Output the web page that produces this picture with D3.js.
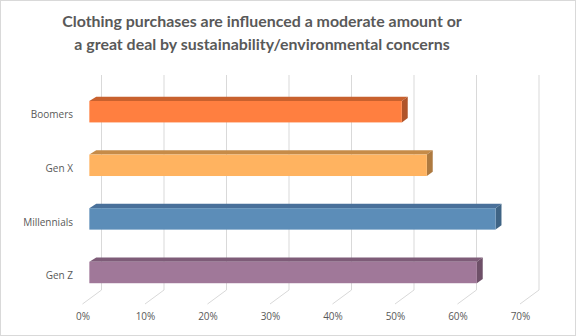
<!DOCTYPE html>
<html>
<head>
<meta charset="utf-8">
<script src="https://cdn.jsdelivr.net/npm/d3@7"></script>
<style>
  html, body { margin: 0; padding: 0; background: #fff; }
  svg { display: block; }
</style>
</head>
<body>
<svg id="chart" width="576" height="336"></svg>
<script>
// Survey results by generation
const categories = ["Boomers", "Gen X", "Millennials", "Gen Z"];
const values = [0.50, 0.54, 0.65, 0.62];
const tickValues = [0, 0.1, 0.2, 0.3, 0.4, 0.5, 0.6, 0.7];
const titleLines = [
  "Clothing purchases are influenced a moderate amount or",
  "a great deal by sustainability/environmental concerns"
];
// front / top / side shades for each bar
const faceColors = ["#FF7F40", "#FFB360", "#5C8DB8", "#A07899"];
const topColors = ["#C8612E", "#C68B48", "#49709A", "#7E5C78"];
const sideColors = ["#B0542A", "#AE7A40", "#3F6485", "#6E5068"];

const svg = d3.select("#chart");
const W = 576, H = 336;

// outer frame
svg.append("rect")
  .attr("x", 0.5).attr("y", 0.5)
  .attr("width", W - 1).attr("height", H - 1)
  .attr("fill", "#fff").attr("stroke", "#d9d9d9");

// oblique 3D geometry: back wall, depth vector towards the viewer
const backX0 = 101.5, wallTop = 75, floorY = 290;
const depth = { dx: -19, dy: 14 };
const barFront = 0.64, barBack = 0.33; // depth fractions of the bar's faces

const x = d3.scaleLinear().domain([0, 0.7]).range([backX0, backX0 + 437.5]);
const y = d3.scaleBand().domain(categories)
  .range([84.9, 84.9 + 53.6 * 4])
  .paddingInner(0.6).paddingOuter(0.3);

// vertical gridlines on the back wall
svg.append("g").selectAll("line").data(tickValues).join("line")
  .attr("x1", d => x(d)).attr("x2", d => x(d))
  .attr("y1", wallTop).attr("y2", floorY)
  .attr("stroke", "#d9d9d9").attr("stroke-width", 1);

// floor gridlines running to the front edge
svg.append("g").selectAll("line").data(tickValues).join("line")
  .attr("x1", d => x(d)).attr("y1", floorY)
  .attr("x2", d => x(d) + depth.dx).attr("y2", floorY + depth.dy)
  .attr("stroke", "#d9d9d9").attr("stroke-width", 1);

// tick labels along the front edge
const fmt = d3.format(".0%");
svg.append("g").selectAll("text").data(tickValues).join("text")
  .attr("x", d => x(d) + depth.dx + 0.5)
  .attr("y", floorY + depth.dy + 13)
  .attr("text-anchor", "middle")
  .attr("dominant-baseline", "middle")
  .attr("font-family", "'Open Sans', sans-serif")
  .attr("font-size", 10)
  .attr("fill", "#595959")
  .text(d => fmt(d));

// bars: front face shifted forward, top and right end faces towards the back
const fx = v => x(v) + depth.dx * barFront;
const off = { dx: depth.dx * (barBack - barFront), dy: depth.dy * (barBack - barFront) };

const bars = svg.append("g").selectAll("g").data(categories).join("g");

bars.append("path") // top face
  .attr("fill", (d, i) => topColors[i])
  .attr("d", (d, i) => {
    const x0 = fx(0), x1 = fx(values[i]), yt = y(d);
    return `M${x0},${yt}L${x1},${yt}L${x1 + off.dx},${yt + off.dy}L${x0 + off.dx + 1},${yt + off.dy}Z`;
  });

bars.append("path") // right end face
  .attr("fill", (d, i) => sideColors[i])
  .attr("d", (d, i) => {
    const x1 = fx(values[i]), yt = y(d), yb = y(d) + y.bandwidth();
    return `M${x1},${yt}L${x1 + off.dx},${yt + off.dy}L${x1 + off.dx},${yb + off.dy}L${x1},${yb}Z`;
  });

bars.append("rect") // front face
  .attr("x", fx(0))
  .attr("y", d => y(d))
  .attr("width", (d, i) => fx(values[i]) - fx(0))
  .attr("height", y.bandwidth())
  .attr("fill", (d, i) => faceColors[i]);

// category labels
svg.append("g").selectAll("text").data(categories).join("text")
  .attr("x", 73)
  .attr("y", d => y(d) + y.bandwidth() / 2 + 4)
  .attr("text-anchor", "end")
  .attr("dominant-baseline", "middle")
  .attr("font-family", "'Open Sans', sans-serif")
  .attr("font-size", 10)
  .attr("fill", "#595959")
  .text(d => d);

// title, sized to span its measured width
const title = svg.append("g").selectAll("text").data(titleLines).join("text")
  .attr("x", 262)
  .attr("y", (d, i) => 23 + i * 22.5)
  .attr("text-anchor", "middle")
  .attr("dominant-baseline", "middle")
  .attr("font-family", "Lato, sans-serif")
  .attr("font-weight", "bold")
  .attr("font-size", 18)
  .attr("fill", "#595959")
  .text(d => d);
const w0 = title.nodes()[0].getComputedTextLength();
title.attr("font-size", 18 * 400 / w0);
</script>
</body>
</html>
